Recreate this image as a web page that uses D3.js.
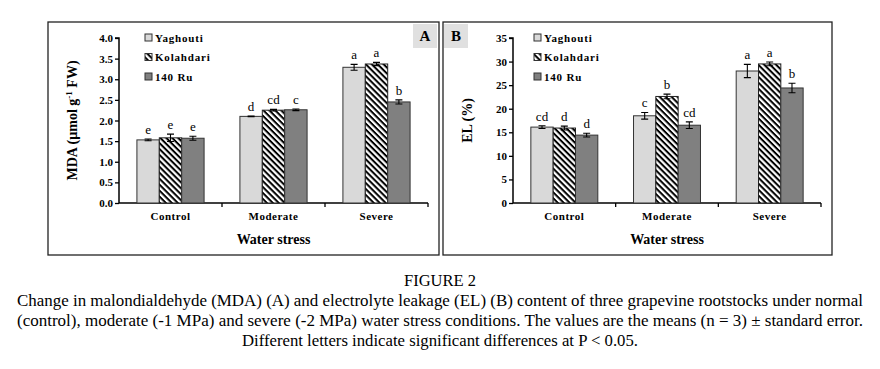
<!DOCTYPE html>
<html>
<head>
<meta charset="utf-8">
<script src="https://cdn.jsdelivr.net/npm/d3@7"></script>
<style>
  body { margin: 0; background: #fff; }
  svg, svg text { font-family: "Liberation Serif", "Times New Roman", Times, "DejaVu Serif", serif; }
</style>
</head>
<body>
<svg id="fig" width="880" height="369"></svg>
<script>
// data
const groups = ["Control", "Moderate", "Severe"];
const cultivars = ["Yaghouti", "Kolahdari", "140 Ru"];

// MDA (panel A)
const mdaYaghouti = [1.53, 2.10, 3.29];
const mdaKolahdari = [1.58, 2.25, 3.37];
const mdaRu = [1.57, 2.26, 2.45];
const mdaErrYaghouti = [0.02, 0.01, 0.07];
const mdaErrKolahdari = [0.09, 0.02, 0.04];
const mdaErrRu = [0.05, 0.02, 0.05];
const mdaLetters = [["e", "e", "e"], ["d", "cd", "c"], ["a", "a", "b"]];
const mdaTicks = [0, 0.5, 1.0, 1.5, 2.0, 2.5, 3.0, 3.5, 4.0];

// EL (panel B)
const elYaghouti = [16.1, 18.5, 28.0];
const elKolahdari = [15.9, 22.6, 29.5];
const elRu = [14.4, 16.5, 24.4];
const elErrYaghouti = [0.3, 0.7, 1.4];
const elErrKolahdari = [0.4, 0.5, 0.4];
const elErrRu = [0.4, 0.7, 1.0];
const elLetters = [["cd", "d", "d"], ["c", "b", "cd"], ["a", "a", "b"]];
const elTicks = [0, 5, 10, 15, 20, 25, 30, 35];

const captionLines = [
  "Change in malondialdehyde (MDA) (A) and electrolyte leakage (EL) (B) content of three grapevine rootstocks under normal",
  "(control), moderate (-1 MPa) and severe (-2 MPa) water stress conditions. The values are the means (n = 3) \u00b1 standard error.",
  "Different letters indicate significant differences at P < 0.05."
];

const SERIF = "'Liberation Serif', 'Times New Roman', Times, serif";

const svg = d3.select("#fig").style("font-family", SERIF);

// hatch pattern for Kolahdari
const defs = svg.append("defs");
const pat = defs.append("pattern")
  .attr("id", "hatch")
  .attr("patternUnits", "userSpaceOnUse")
  .attr("width", 4.2).attr("height", 4.2)
  .attr("patternTransform", "rotate(45)");
pat.append("rect").attr("width", 4.2).attr("height", 4.2).attr("fill", "#fff");
pat.append("rect").attr("x", 0).attr("y", 0).attr("width", 4.2).attr("height", 2).attr("fill", "#000");

const fills = ["#d9d9d9", "url(#hatch)", "#808080"];
const strokes = ["#333", "#222", "#333"];

function drawPanel(p) {
  const g = svg.append("g");

  // frame
  g.append("rect")
    .attr("x", p.box[0]).attr("y", p.box[1])
    .attr("width", p.box[2]).attr("height", p.box[3])
    .attr("fill", "none").attr("stroke", "#222").attr("stroke-width", 1.3);

  // letter tag
  g.append("rect")
    .attr("x", p.tag[0]).attr("y", p.tag[1])
    .attr("width", p.tag[2]).attr("height", p.tag[3])
    .attr("fill", "#e0e0e0");
  g.append("text")
    .attr("x", p.tag[0] + p.tag[2] / 2).attr("y", p.tag[1] + p.tag[3] / 2 + 5)
    .attr("text-anchor", "middle")
    .style("font-size", "15px").style("font-weight", "bold")
    .text(p.label);

  const x0 = d3.scaleBand().domain(groups).range([p.left, p.right]).paddingInner(0).paddingOuter(0);
  const x1 = d3.scaleBand().domain(cultivars).range([0, x0.bandwidth()]).paddingInner(0).paddingOuter(0.8);
  const y = d3.scaleLinear().domain([0, p.max]).range([p.bottom, p.top]);

  // y axis
  const yAx = g.append("g")
    .attr("transform", `translate(${p.left},0)`)
    .call(d3.axisLeft(y).tickValues(p.ticks).tickSize(4).tickFormat(p.fmt));
  yAx.select(".domain").attr("stroke", "#000").attr("stroke-width", 1.5).attr("d", `M-4,${p.top}H0V${p.bottom}`);
  yAx.selectAll(".tick line").attr("stroke-width", 1.3);
  yAx.selectAll("text")
    .style("font-family", SERIF)
    .style("font-size", "11px").style("font-weight", "bold").attr("x", -6);

  // x axis line + boundary ticks
  g.append("line")
    .attr("x1", p.left).attr("x2", p.right)
    .attr("y1", p.bottom).attr("y2", p.bottom)
    .attr("stroke", "#000").attr("stroke-width", 1.5);
  g.selectAll(".xt")
    .data(groups)
    .join("line")
    .attr("x1", d => x0(d) + x0.bandwidth()).attr("x2", d => x0(d) + x0.bandwidth())
    .attr("y1", p.bottom).attr("y2", p.bottom + 4)
    .attr("stroke", "#000").attr("stroke-width", 1.3);
  g.selectAll(".xl")
    .data(groups)
    .join("text")
    .attr("x", d => x0(d) + x0.bandwidth() / 2)
    .attr("y", p.bottom + 17)
    .attr("text-anchor", "middle")
    .style("font-size", "11px").style("font-weight", "bold").style("letter-spacing", "0.5px")
    .text(d => d);

  // bars
  p.series.forEach((vals, si) => {
    const c = cultivars[si];
    const errs = p.errors[si];
    const bars = g.append("g");
    groups.forEach((grp, gi) => {
      const bx = x0(grp) + x1(c);
      const bw = x1.bandwidth();
      bars.append("rect")
        .attr("x", bx).attr("y", y(vals[gi]))
        .attr("width", bw).attr("height", p.bottom - y(vals[gi]))
        .attr("fill", fills[si]).attr("stroke", strokes[si]).attr("stroke-width", 1);
      const cx = bx + bw / 2;
      const hi = y(vals[gi] + errs[gi]), lo = y(vals[gi] - errs[gi]);
      bars.append("path")
        .attr("d", `M${cx},${hi}V${lo}M${cx - 3.5},${hi}H${cx + 3.5}M${cx - 3.5},${lo}H${cx + 3.5}`)
        .attr("stroke", "#000").attr("stroke-width", 1.1).attr("fill", "none");
      bars.append("text")
        .attr("x", cx).attr("y", hi - 5)
        .attr("text-anchor", "middle")
        .style("font-size", "13px")
        .text(p.letters[gi][si]);
    });
  });

  // axis titles
  g.append("text")
    .attr("transform", `translate(${p.ytx},${(p.top + p.bottom) / 2}) rotate(-90)`)
    .attr("text-anchor", "middle")
    .style("font-size", "14px").style("font-weight", "bold")
    .html(p.ytitle);
  g.append("text")
    .attr("x", (p.left + p.right) / 2).attr("y", 244)
    .attr("text-anchor", "middle")
    .style("font-size", "14px").style("font-weight", "bold")
    .text("Water stress");

  // legend
  const lg = g.append("g");
  cultivars.forEach((c, i) => {
    const ly = 38 + i * 19.5;
    lg.append("rect")
      .attr("x", p.legX).attr("y", ly - 4).attr("width", 7).attr("height", 7)
      .attr("fill", fills[i]).attr("stroke", "#333").attr("stroke-width", 1);
    lg.append("text")
      .attr("x", p.legX + 10).attr("y", ly + 3.5)
      .style("font-size", "11px").style("font-weight", "bold").style("letter-spacing", "0.8px")
      .text(c);
  });
}

drawPanel({
  label: "A",
  box: [48, 22, 391, 233],
  tag: [413, 24, 24, 24],
  left: 119, right: 428, top: 38, bottom: 203,
  max: 4, ticks: mdaTicks, fmt: d3.format(".1f"),
  series: [mdaYaghouti, mdaKolahdari, mdaRu],
  errors: [mdaErrYaghouti, mdaErrKolahdari, mdaErrRu],
  letters: mdaLetters,
  ytx: 77,
  ytitle: 'MDA (\u00b5mol  g<tspan dy="-5" font-size="9px">-1</tspan><tspan dy="5"> FW)</tspan>',
  legX: 145
});

drawPanel({
  label: "B",
  box: [443, 22, 389, 233],
  tag: [444, 24, 24, 24],
  left: 513, right: 821, top: 38, bottom: 203,
  max: 35, ticks: elTicks, fmt: d3.format("d"),
  series: [elYaghouti, elKolahdari, elRu],
  errors: [elErrYaghouti, elErrKolahdari, elErrRu],
  letters: elLetters,
  ytx: 472,
  ytitle: "EL (%)",
  legX: 534
});

// caption
const cap = svg.append("g").style("font-size", "16px").style("font-family", SERIF);
cap.append("text").attr("x", 440).attr("y", 286).attr("text-anchor", "middle")
  .attr("textLength", 72).attr("lengthAdjust", "spacingAndGlyphs").text("FIGURE 2");
cap.append("text").attr("x", 17).attr("y", 306)
  .attr("textLength", 846).attr("lengthAdjust", "spacingAndGlyphs").text(captionLines[0]);
cap.append("text").attr("x", 17).attr("y", 326)
  .attr("textLength", 846).attr("lengthAdjust", "spacingAndGlyphs").text(captionLines[1]);
cap.append("text").attr("x", 440).attr("y", 346).attr("text-anchor", "middle")
  .attr("textLength", 396).attr("lengthAdjust", "spacingAndGlyphs").text(captionLines[2]);
</script>
</body>
</html>
